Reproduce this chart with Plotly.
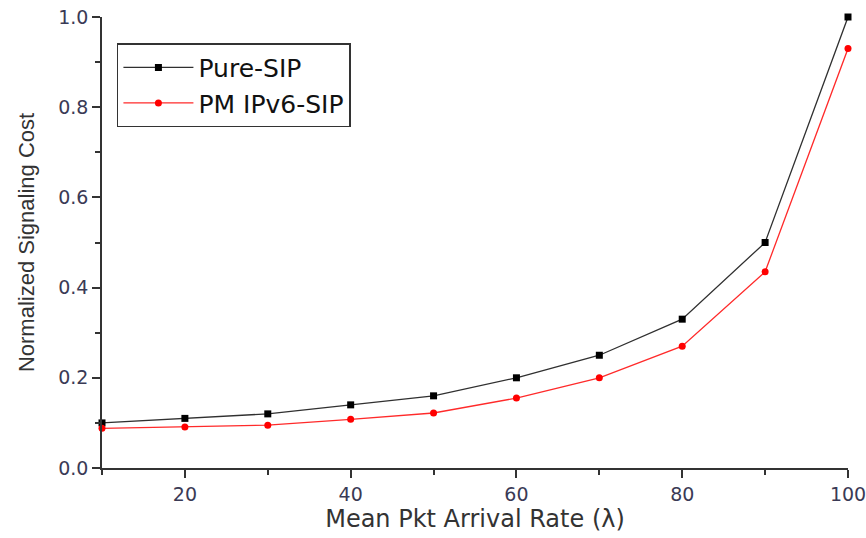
import plotly.graph_objects as go

rate = [10, 20, 30, 40, 50, 60, 70, 80, 90, 100]
pure_sip = [0.100, 0.110, 0.120, 0.140, 0.160, 0.200, 0.250, 0.330, 0.500, 1.000]
pmipv6_sip = [0.088, 0.091, 0.095, 0.108, 0.122, 0.155, 0.200, 0.270, 0.435, 0.930]

x_ticks = [20, 40, 60, 80, 100]
y_ticks = [0.0, 0.2, 0.4, 0.6, 0.8, 1.0]

fig = go.Figure()
fig.add_trace(go.Scatter(x=rate, y=pure_sip, mode="lines+markers", name="Pure-SIP",
                         line=dict(color="#303030", width=1.3),
                         marker=dict(symbol="square", size=7, color="black"),
                         cliponaxis=False))
fig.add_trace(go.Scatter(x=rate, y=pmipv6_sip, mode="lines+markers", name="PM IPv6-SIP",
                         line=dict(color="#ff2a2a", width=1.3),
                         marker=dict(symbol="circle", size=7, color="#ff0000"),
                         cliponaxis=False))

axis_common = dict(showline=True, linecolor="#333333", linewidth=1.5, ticks="outside",
                   ticklen=8, tickwidth=1.5, tickcolor="#333333", showgrid=False, zeroline=False,
                   tickfont=dict(family="DejaVu Sans", size=19, color="#3a3a55"),
                   mirror=False, automargin=False, ticklabeloverflow="allow")

fig.update_layout(
    width=866, height=538,
    margin=dict(l=102, r=18, t=17, b=70, autoexpand=False),
    paper_bgcolor="white", plot_bgcolor="white",
    font=dict(family="DejaVu Sans", color="#333333"),
    xaxis=dict(range=[10, 100], tickvals=x_ticks,
               title=dict(text="Mean Pkt Arrival Rate (λ)",
                          font=dict(family="DejaVu Sans", size=24, color="#333333"), standoff=6),
               minor=dict(ticks="outside", ticklen=5, tickwidth=1.5, tickcolor="#333333", dtick=10, tick0=10, showgrid=False),
               **axis_common),
    yaxis=dict(range=[0, 1.0], tickvals=y_ticks, tickformat=".1f",
               title=dict(text="Normalized Signaling Cost",
                          font=dict(family="Liberation Sans, Arial", size=22, color="#333333"), standoff=18),
               minor=dict(ticks="outside", ticklen=5, tickwidth=1.5, tickcolor="#333333", dtick=0.1, tick0=0, showgrid=False),
               **axis_common),
    legend=dict(x=0.02, y=0.942, xanchor="left", yanchor="top",
                bordercolor="#333333", borderwidth=1.5, bgcolor="white",
                font=dict(family="DejaVu Sans", size=25, color="#111111"), itemwidth=70, tracegroupgap=0),
    showlegend=True,
)

fig.write_html("out.html")
